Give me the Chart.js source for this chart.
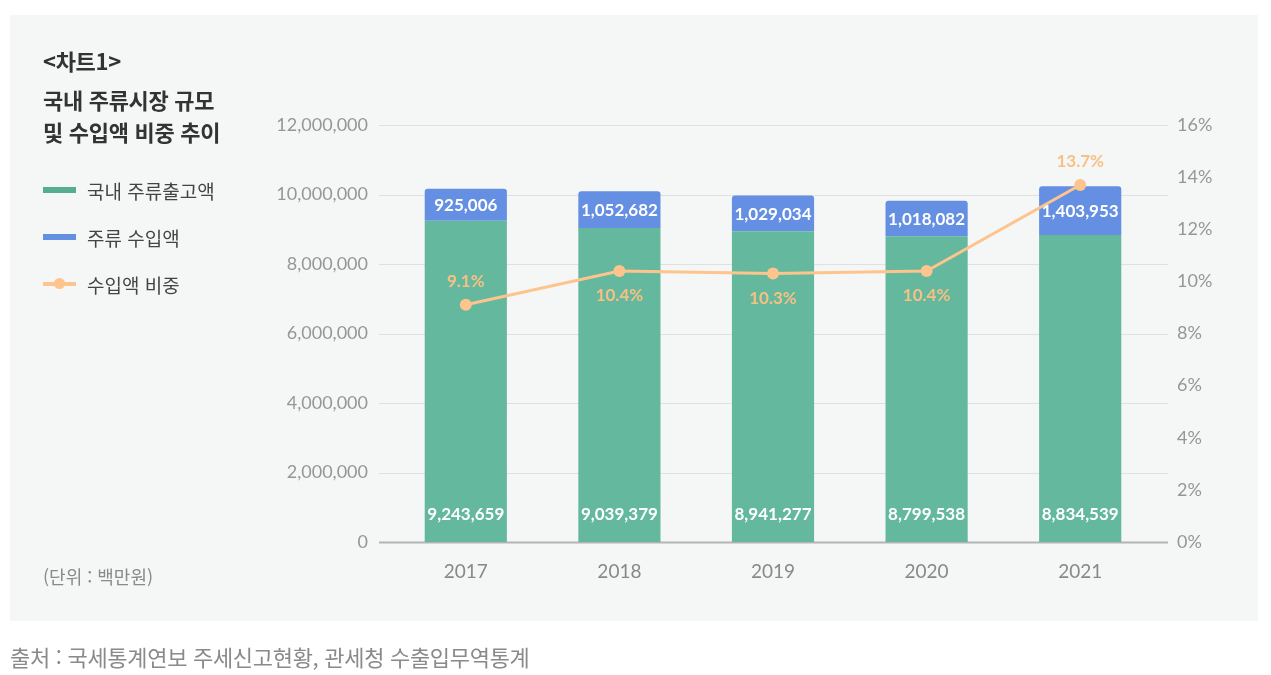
<!DOCTYPE html>
<html lang="ko">
<head>
<meta charset="utf-8">
<title>국내 주류시장 규모 및 수입액 비중 추이</title>
<script src="https://cdn.jsdelivr.net/npm/chart.js@4"></script>
<style>
    html, body {
        margin: 0;
        padding: 0;
        background: #ffffff;
        width: 1271px;
        height: 675px;
        overflow: hidden;
        font-family: "Noto Sans CJK KR", "Noto Sans", sans-serif;
    }

    .panel {
        position: absolute;
        left: 10px;
        top: 15px;
        width: 1248px;
        height: 606px;
        background: #f5f7f7;
    }

    .chart-wrap {
        position: absolute;
        left: 0;
        top: 0;
        width: 1271px;
        height: 675px;
    }

    .chart-tag {
        position: absolute;
        left: 43px;
        top: 44px;
        font-size: 22px;
        line-height: 32px;
        font-weight: 700;
        color: #333;
        letter-spacing: -0.3px;
    }

    .chart-title {
        position: absolute;
        left: 43px;
        top: 83px;
        font-size: 22px;
        font-weight: 700;
        color: #333;
        line-height: 32px;
        letter-spacing: -0.3px;
    }

    .legend {
        position: absolute;
        left: 43px;
        top: 175px;
    }

    .legend-item {
        display: flex;
        align-items: center;
        height: 30px;
        margin-bottom: 17px;
        font-size: 19px;
        color: #444;
    }

    .legend-mark {
        position: relative;
        width: 33px;
        height: 6px;
        margin-right: 11px;
    }

    .legend-mark.line {
        height: 4px;
    }

    .legend-mark.line::after {
        content: "";
        position: absolute;
        left: 11px;
        top: -4px;
        width: 11px;
        height: 11px;
        border-radius: 50%;
        background: #fec48d;
    }

    .unit {
        position: absolute;
        left: 43px;
        top: 562px;
        font-size: 18px;
        line-height: 28px;
        color: #8a8a8a;
    }

    .source {
        position: absolute;
        left: 10px;
        top: 640px;
        font-size: 22px;
        line-height: 32px;
        color: #8a8a8a;
        letter-spacing: -0.3px;
    }
</style>
</head>
<body>
<div class="panel"></div>
<div class="chart-wrap"><canvas id="chart"></canvas></div>

<div class="chart-tag">&lt;차트1&gt;</div>
<div class="chart-title">국내 주류시장 규모<br>및 수입액 비중 추이</div>

<div class="legend">
    <div class="legend-item"><span class="legend-mark" style="background:#55af8f"></span>국내 주류출고액</div>
    <div class="legend-item"><span class="legend-mark" style="background:#6490e2"></span>주류 수입액</div>
    <div class="legend-item"><span class="legend-mark line" style="background:#fec48d"></span>수입액 비중</div>
</div>

<div class="unit">(단위 : 백만원)</div>
<div class="source">출처 : 국세통계연보 주세신고현황, 관세청 수출입무역통계</div>

<script>
// 데이터
const years = ['2017', '2018', '2019', '2020', '2021'];
const domesticShipments = [9243659, 9039379, 8941277, 8799538, 8834539];
const importValues = [925006, 1052682, 1029034, 1018082, 1403953];
const importShares = [9.1, 10.4, 10.3, 10.4, 13.7];

// 스타일
const colors = {
    green: '#63b89e',
    blue: '#648fe2',
    orange: '#fec48d',
    orangeText: '#f8c083',
    tick: '#969696',
    grid: '#dde1e4',
    zero: '#b4b4b4'
};
const shareLabelSide = ['above', 'below', 'below', 'below', 'above'];
const numberFont = 'Lato, "Noto Sans", sans-serif';

// 가로 눈금선 (차트 영역 양옆으로 조금 더 길게)
const extendedGrid = {
    id: 'extendedGrid',
    beforeDatasetsDraw(chart) {
        const { ctx, chartArea } = chart;
        const yScale = chart.scales.y;
        ctx.save();
        yScale.ticks.forEach(tick => {
            const y = Math.round(yScale.getPixelForValue(tick.value)) + 0.5;
            const isZero = tick.value === 0;
            ctx.strokeStyle = isZero ? colors.zero : colors.grid;
            ctx.lineWidth = isZero ? 2 : 1.2;
            ctx.beginPath();
            ctx.moveTo(chartArea.left - 10, y);
            ctx.lineTo(chartArea.right + 11, y);
            ctx.stroke();
        });
        ctx.restore();
    }
};

// 막대/선 값 라벨
const valueLabels = {
    id: 'valueLabels',
    afterDatasetsDraw(chart) {
        const ctx = chart.ctx;
        ctx.save();
        ctx.textAlign = 'center';
        ctx.textBaseline = 'middle';
        ctx.font = 'bold 17px ' + numberFont;

        const greenMeta = chart.getDatasetMeta(0);
        greenMeta.data.forEach((bar, i) => {
            ctx.fillStyle = '#ffffff';
            ctx.fillText(domesticShipments[i].toLocaleString('en-US'), bar.x, bar.base - 27);
        });

        const blueMeta = chart.getDatasetMeta(1);
        blueMeta.data.forEach((bar, i) => {
            ctx.fillStyle = '#ffffff';
            ctx.fillText(importValues[i].toLocaleString('en-US'), bar.x, (bar.y + bar.base) / 2 + 1);
        });

        const lineMeta = chart.getDatasetMeta(2);
        lineMeta.data.forEach((pt, i) => {
            ctx.fillStyle = colors.orangeText;
            const dy = shareLabelSide[i] === 'above' ? -23 : 25;
            ctx.fillText(importShares[i].toFixed(1) + '%', pt.x, pt.y + dy);
        });
        ctx.restore();
    }
};

new Chart(document.getElementById('chart'), {
    type: 'bar',
    data: {
        labels: years,
        datasets: [
            {
                label: '국내 주류출고액',
                data: domesticShipments,
                backgroundColor: colors.green,
                stack: 'total',
                order: 2
            },
            {
                label: '주류 수입액',
                data: importValues,
                backgroundColor: colors.blue,
                stack: 'total',
                borderRadius: { topLeft: 3, topRight: 3, bottomLeft: 0, bottomRight: 0 },
                borderSkipped: false,
                order: 2
            },
            {
                type: 'line',
                label: '수입액 비중',
                data: importShares,
                yAxisID: 'y1',
                borderColor: colors.orange,
                backgroundColor: colors.orange,
                borderWidth: 3,
                pointRadius: 6,
                pointBackgroundColor: colors.orange,
                pointBorderWidth: 0,
                tension: 0,
                order: 1
            }
        ]
    },
    options: {
        responsive: true,
        maintainAspectRatio: false,
        animation: false,
        layout: {
            padding: { top: 125, bottom: 83, left: 269, right: 14 }
        },
        plugins: {
            legend: { display: false },
            tooltip: { enabled: false }
        },
        datasets: {
            bar: { barPercentage: 0.535, categoryPercentage: 1 }
        },
        scales: {
            x: {
                stacked: true,
                grid: { display: false, drawTicks: false },
                border: { display: false },
                ticks: {
                    color: '#888888',
                    font: { family: numberFont, size: 19 },
                    padding: 18
                },
                afterFit(scale) { scale.height = 50; }
            },
            y: {
                stacked: true,
                position: 'left',
                min: 0,
                max: 12000000,
                ticks: {
                    stepSize: 2000000,
                    color: colors.tick,
                    font: { family: numberFont, size: 18 },
                    padding: 21,
                    callback: v => v.toLocaleString('en-US')
                },
                grid: { display: false, drawTicks: false },
                border: { display: false },
                afterFit(scale) { scale.width = 120; }
            },
            y1: {
                position: 'right',
                min: 0,
                max: 16,
                ticks: {
                    stepSize: 2,
                    color: colors.tick,
                    font: { family: numberFont, size: 18 },
                    padding: 20,
                    callback: v => v + '%'
                },
                grid: { display: false, drawTicks: false },
                border: { display: false },
                afterFit(scale) { scale.width = 100; }
            }
        }
    },
    plugins: [extendedGrid, valueLabels]
});
</script>
</body>
</html>
